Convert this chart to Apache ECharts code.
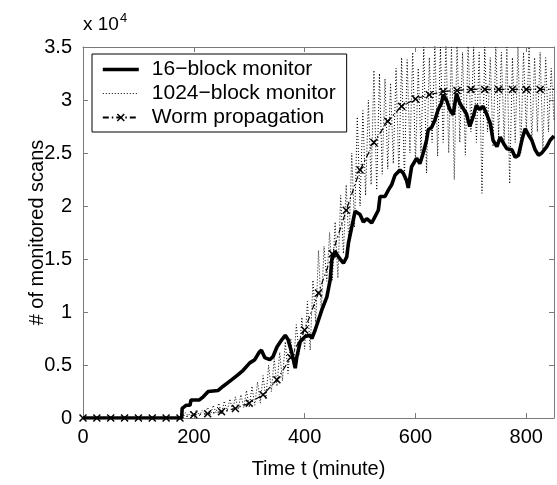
<!DOCTYPE html>
<html>
<head>
<meta charset="utf-8">
<script src="https://cdn.jsdelivr.net/npm/echarts@6/dist/echarts.min.js"></script>
<style>
html,body{margin:0;padding:0;background:#fff;}
#chart{width:557px;height:485px;}
</style>
</head>
<body>
<div id="chart"></div>
<script>
// ---- data (values in units of 10^4 scans) ----
const xTicks = [0, 200, 400, 600, 800];
const yTicks = [0, 0.5, 1, 1.5, 2, 2.5, 3, 3.5];

const seriesNames = ['16\u2212block monitor', '1024\u2212block monitor', 'Worm propagation'];

// 16-block monitor (irregular sample times)
const block16Time = [0, 178, 179, 186, 193, 195, 210, 217, 226, 244, 253, 268, 280, 289, 301, 310, 318, 322, 328, 337,
  343, 350, 359, 365, 370, 377, 383, 386, 392, 401, 410, 413, 419, 431, 440, 446, 449, 455, 461, 470,
  476, 479, 485, 491, 500, 506, 512, 521, 527, 533, 536, 545, 551, 557, 563, 572, 578, 584, 587, 593,
  602, 608, 614, 620, 623, 629, 635, 641, 647, 650, 656, 662, 668, 674, 680, 686, 692, 698, 704, 710,
  716, 722, 729, 735, 740, 747, 753, 759, 765, 774, 780, 786, 792, 798, 804, 810, 816, 822, 828, 837,
  843, 850];
const block16Value = [0, 0, 0.09, 0.12, 0.12, 0.17, 0.17, 0.20, 0.25, 0.26, 0.30, 0.36, 0.41, 0.45, 0.52, 0.55, 0.62, 0.64, 0.57, 0.55,
  0.58, 0.67, 0.74, 0.78, 0.74, 0.61, 0.47, 0.58, 0.72, 0.77, 0.78, 0.75, 0.83, 1.02, 1.14, 1.30, 1.49, 1.57, 1.52, 1.46,
  1.52, 1.65, 1.80, 1.95, 1.92, 1.85, 1.88, 1.84, 1.90, 1.96, 2.09, 2.09, 2.15, 2.20, 2.29, 2.34, 2.31, 2.24, 2.17, 2.37,
  2.45, 2.40, 2.50, 2.62, 2.72, 2.74, 2.81, 2.91, 2.97, 3.05, 3.00, 2.91, 2.86, 3.06, 2.97, 2.92, 2.87, 2.75, 2.84, 2.95,
  2.91, 2.94, 2.86, 2.78, 2.62, 2.56, 2.65, 2.59, 2.54, 2.53, 2.46, 2.48, 2.62, 2.73, 2.67, 2.62, 2.53, 2.48, 2.50, 2.56,
  2.62, 2.66];

// 1024-block monitor, sampled every 5 minutes from t = 0
const block1024Start = 0;
const block1024Step = 5;
const block1024Value = [
  0, 0, 0, 0, 0, 0, 0, 0, 0, 0,
  0, 0, 0, 0, 0, 0, 0, 0, 0, 0,
  0, 0, 0, 0, 0, 0, 0, 0, 0, 0,
  0, 0, 0, 0, 0, 0,
  0.00, 0.05, 0.02, 0.06, 0.03, 0.08, 0.02, 0.07, 0.04, 0.10,
  0.03, 0.12, 0.05, 0.14, 0.04, 0.16, 0.06, 0.18, 0.07, 0.20,
  0.08, 0.22, 0.10, 0.26, 0.10, 0.30, 0.12, 0.34, 0.14, 0.40,
  0.18, 0.50, 0.25, 0.56, 0.30, 0.62, 0.35, 0.72, 0.42, 0.75,
  0.50, 0.88, 0.60, 0.95, 0.65, 1.10, 0.64, 1.30, 0.90, 1.58,
  1.00, 1.62, 1.29, 1.75, 1.30, 1.85, 1.32, 2.10, 1.55, 2.20,
  1.62, 2.50, 1.80, 2.84, 2.00, 2.90, 2.10, 3.00, 2.20, 3.28,
  2.15, 3.25, 2.30, 3.20, 2.35, 3.16, 2.40, 3.30, 2.30, 3.40,
  2.25, 3.38, 2.50, 3.45, 2.40, 3.30, 2.50, 3.50, 2.31, 3.40,
  2.60, 3.55, 2.47, 3.50, 2.60, 3.55, 2.50, 3.50, 2.25, 3.55,
  2.60, 3.45, 2.48, 3.55, 2.70, 3.50, 2.60, 3.45, 2.12, 3.50,
  2.70, 3.40, 2.56, 3.50, 2.65, 3.45, 2.60, 3.50, 2.21, 3.40,
  2.60, 3.50, 2.50, 3.45, 2.70, 3.50, 2.60, 3.40, 2.70, 3.45,
  2.53, 3.40, 2.70, 3.30, 2.80
];

// Worm propagation (markers every 25 minutes)
const wormTime = [0, 25, 50, 75, 100, 125, 150, 175, 200, 225, 250, 275, 300, 325, 350, 375, 400, 425, 450, 475,
  500, 525, 550, 575, 600, 625, 650, 675, 700, 725, 750, 775, 800, 825, 850];
const wormValue = [0, 0, 0, 0, 0, 0, 0, 0, 0.03, 0.04, 0.06, 0.09, 0.14, 0.22, 0.36, 0.57, 0.83, 1.18, 1.55, 1.96,
  2.34, 2.60, 2.80, 2.94, 3.01, 3.05, 3.08, 3.09, 3.10, 3.10, 3.10, 3.10, 3.10, 3.10, 3.10];

// ---- build ----
const FONT = 'Liberation Sans, Arial, Helvetica, sans-serif';
const AX = '#7a7a7a';
const block16Data = block16Time.map((t, i) => [t, block16Value[i]]);
const block1024Data = block1024Value.map((v, i) => [block1024Start + i * block1024Step, v]);
const wormData = wormTime.map((t, i) => {
  const p = { value: [t, wormValue[i]] };
  if (i === wormTime.length - 1) p.symbol = 'none';
  return p;
});

const xSym = 'path://M0,1.3L1.3,0L5,3.7L8.7,0L10,1.3L6.3,5L10,8.7L8.7,10L5,6.3L1.3,10L0,8.7L3.7,5Z';

function xAxisCfg(top) {
  return {
    type: 'value', min: xTicks[0], max: 850, interval: xTicks[1] - xTicks[0],
    position: top ? 'top' : 'bottom',
    axisLine: { show: true, onZero: false, lineStyle: { color: AX, width: 1 } },
    axisTick: { show: true, inside: true, length: 5, lineStyle: { color: AX } },
    axisLabel: top ? { show: false } : { show: true, color: '#000', fontSize: 20, fontFamily: FONT, margin: 9, showMaxLabel: false },
    splitLine: { show: false },
    name: top ? '' : 'Time t (minute)', nameLocation: 'middle', nameGap: 41, nameMoveOverlap: false,
    nameTextStyle: { color: '#000', fontSize: 20, fontFamily: FONT }
  };
}
function yAxisCfg(right) {
  return {
    type: 'value', min: yTicks[0], max: yTicks[yTicks.length - 1], interval: yTicks[1] - yTicks[0],
    position: right ? 'right' : 'left',
    axisLine: { show: true, onZero: false, lineStyle: { color: AX, width: 1 } },
    axisTick: { show: true, inside: true, length: 5, lineStyle: { color: AX } },
    axisLabel: right ? { show: false } : { show: true, color: '#000', fontSize: 20, fontFamily: FONT, margin: 11 },
    splitLine: { show: false },
    name: right ? '' : '# of monitored scans', nameLocation: 'middle', nameGap: 36, nameMoveOverlap: false,
    nameTextStyle: { color: '#000', fontSize: 20, fontFamily: FONT }
  };
}

const chart = echarts.init(document.getElementById('chart'), null, { renderer: 'canvas' });
chart.setOption({
  animation: false,
  backgroundColor: '#fff',
  grid: { left: 83, right: 3, top: 47, bottom: 67, containLabel: false },
  xAxis: [xAxisCfg(false), xAxisCfg(true)],
  yAxis: [yAxisCfg(false), yAxisCfg(true)],
  legend: {
    orient: 'vertical', left: 92, top: 54,
    itemWidth: 36, itemHeight: 10, itemGap: 3,
    padding: [5, 11, 4, 9],
    borderColor: '#000', borderWidth: 1, backgroundColor: '#fff',
    textStyle: { color: '#000', fontSize: 21, fontFamily: FONT, padding: [0, 0, 0, 8] },
    data: [
      { name: seriesNames[0], itemStyle: { opacity: 0 }, lineStyle: { width: 3.6, color: '#000' } },
      { name: seriesNames[1], itemStyle: { opacity: 0 }, lineStyle: { width: 1, color: '#000', type: [1, 2] } },
      { name: seriesNames[2] }
    ]
  },
  graphic: [{
    type: 'text', left: 83, top: 12,
    style: {
      text: 'x 10{s|4}', fill: '#000', font: '19px ' + FONT,
      rich: { s: { fontSize: 13, fontFamily: FONT, verticalAlign: 'top', padding: [0, 0, 12, 1] } }
    }
  }],
  series: [
    {
      name: seriesNames[1], type: 'line', data: block1024Data, showSymbol: false, symbol: 'none',
      lineStyle: { color: '#000', width: 1, type: [1, 2] }, itemStyle: { color: '#000' }, z: 2
    },
    {
      name: seriesNames[0], type: 'line', data: block16Data, showSymbol: false, symbol: 'none',
      lineStyle: { color: '#000', width: 3.6 }, itemStyle: { color: '#000' }, z: 3
    },
    {
      name: seriesNames[2], type: 'line', data: wormData, showSymbol: true, symbol: xSym, symbolSize: 8,
      lineStyle: { color: '#000', width: 1.2, type: [6, 3, 1.5, 3] }, itemStyle: { color: '#000' }, z: 4
    }
  ]
});
</script>
</body>
</html>
